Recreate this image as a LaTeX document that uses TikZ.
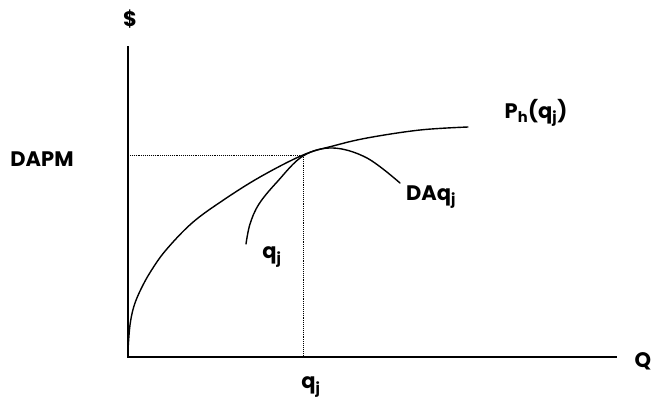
\documentclass[tikz,border=0pt]{standalone}
\usepackage{fontspec}
\setmainfont{Poppins}
\usepackage{amsmath}

\tikzset{
  lbl/.style={font=\fontsize{21}{24}\selectfont\bfseries, inner sep=0pt},
  curve/.style={line width=1.4pt, line cap=round},
  guide/.style={densely dotted, line width=0.9pt}
}

\begin{document}
\begin{tikzpicture}[x=1pt, y=-1pt, >=stealth]
  \useasboundingbox (0,0) rectangle (653,397);

  % Axes
  \coordinate (O) at (128,357);
  \coordinate (ytop) at (128,46);
  \coordinate (xend) at (617,357);
  \draw[line width=2pt] (ytop) -- (O) -- (xend);
  \node[lbl] (dollar) at (130,19) {\$};
  \node[lbl] (Q) at (643,361) {Q};

  % Tangency point
  \coordinate (T) at (303,155);

  % Curve P_h(q_j)
  \draw[curve] plot[smooth, tension=0.6] coordinates {
    (128,350) (130,325) (134,306) (141,289) (151,271) (166,250) (192,223)
    (222,201) (260,177) (303,155) (333,146) (367,138) (420,130) (468,127)};
  \node[lbl] (Ph) at (536,113) {P\textsubscript{h}(q\textsubscript{j})};

  % Curve DAq_j
  \draw[curve] plot[smooth, tension=0.6] coordinates {
    (246,244) (250,224) (259,204) (277,182) (303,156) (333,148)
    (367,158) (400,183)};
  \node[lbl] (DA) at (431,197) {DAq\textsubscript{j}};
  \node[lbl] (qcurve) at (272,257) {q\textsubscript{j}};

  % Dotted projections
  \coordinate (Ty) at (128,155);
  \coordinate (Tx) at (303,357);
  \draw[guide] (Ty) -- (T);
  \draw[guide] (T) -- (Tx);
  \node[lbl] (DAPM) at (42,159) {DAPM};
  \node[lbl] (qaxis) at (311,387) {q\textsubscript{j}};
\end{tikzpicture}
\end{document}
